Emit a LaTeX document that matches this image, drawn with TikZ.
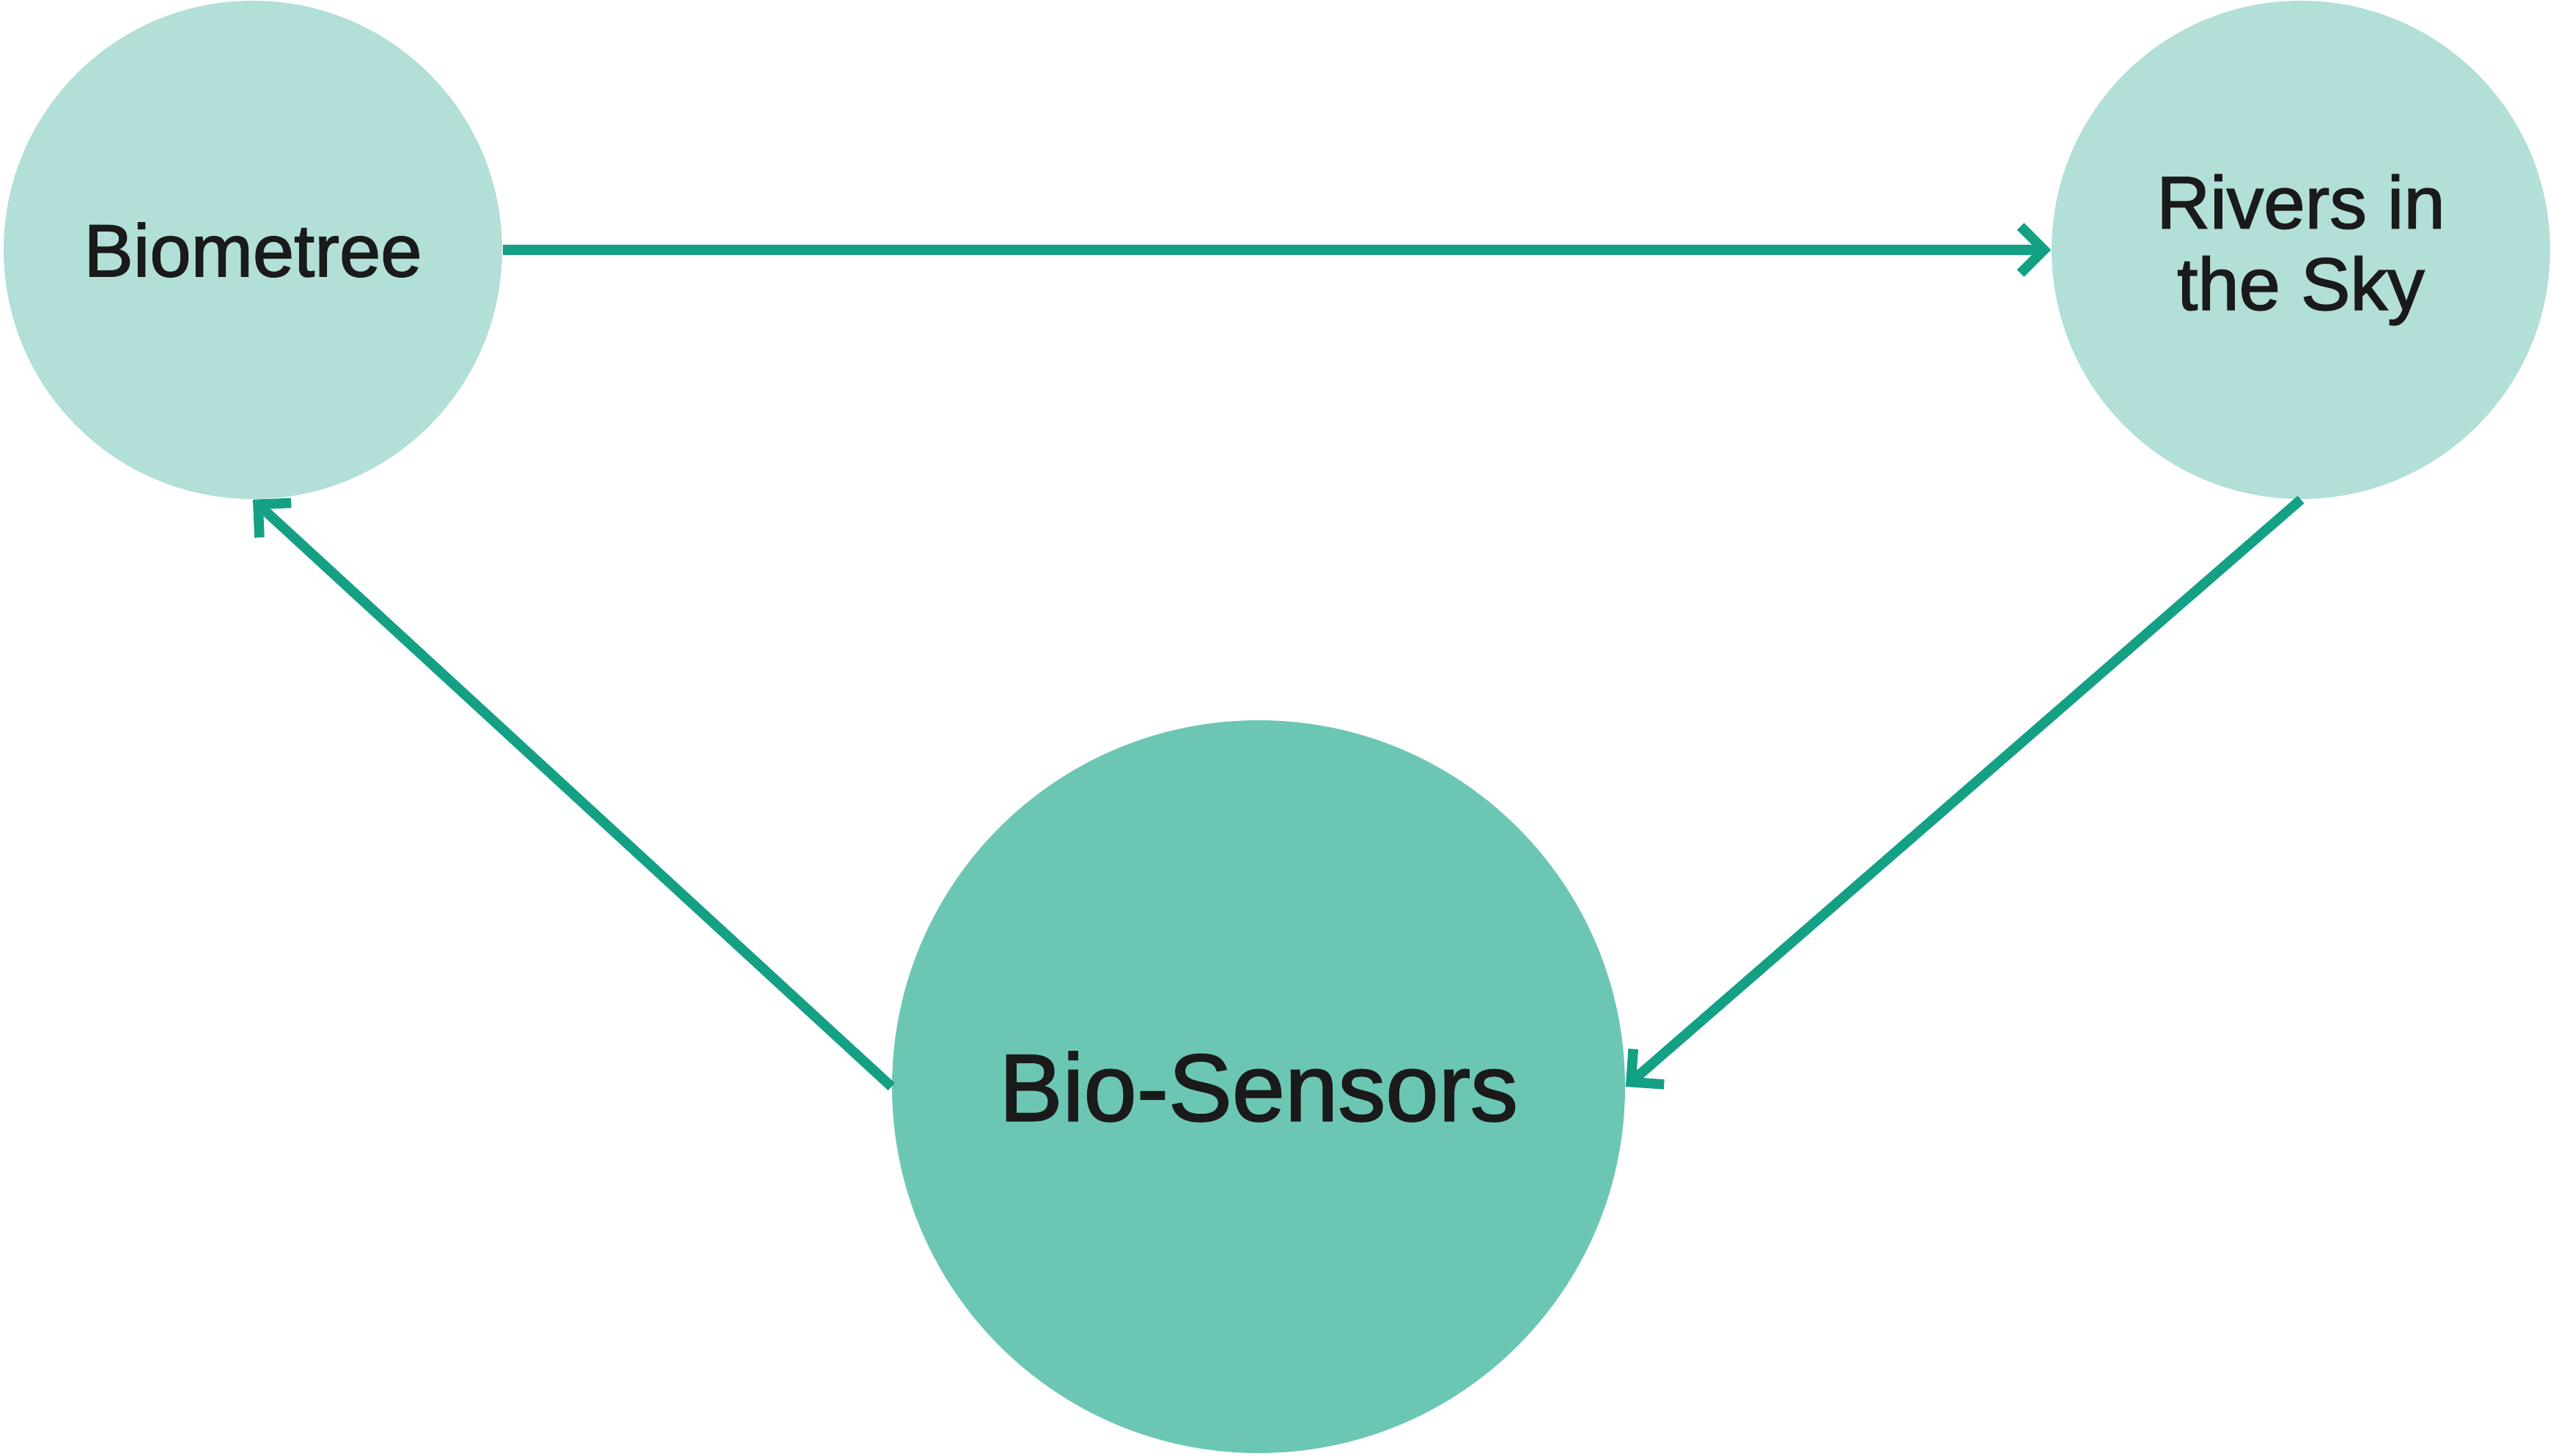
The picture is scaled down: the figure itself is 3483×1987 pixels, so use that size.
\documentclass[tikz,border=0pt]{standalone}
\usepackage{fontspec}
\setmainfont{Liberation Sans}[FakeBold=1.6]
\usetikzlibrary{arrows.meta}
\definecolor{paleteal}{HTML}{B2DFD8}
\definecolor{midteal}{HTML}{6BC7B4}
\definecolor{linkteal}{HTML}{14A084}
\definecolor{inkdark}{HTML}{1A1A1A}
% one unit = 0.25pt; the whole drawing is 3483 x 1987 units
\tikzset{
  topic/.style={circle, fill=paleteal, inner sep=0pt, minimum size=170pt,
    text=inkdark, align=center, font=\fontsize{25.3}{27.8}\selectfont},
  hub/.style={circle, fill=midteal, inner sep=0pt, minimum size=250pt,
    text=inkdark, align=center, font=\fontsize{32.5}{35}\selectfont},
  link/.style={draw=linkteal, line width=3.4pt,
    -{Straight Barb[length=8pt, width=16pt, line join=miter, line cap=butt]}},
}
\begin{document}
\begin{tikzpicture}[x=0.25pt, y=-0.25pt]
  \useasboundingbox (0,0) rectangle (3483,1987);
  \node[topic] (bio) at (345,341) {Biometree};
  \node[topic] (riv) at (3139,341) {Rivers in\\the Sky};
  \node[hub] (sens) at (1717,1483) {Bio-Sensors};
  \draw[link] (bio.east) -- (riv.west);
  \draw[link] (riv.south) -- (sens.east);
  \draw[link] (sens.west) -- (bio.south);
\end{tikzpicture}
\end{document}
